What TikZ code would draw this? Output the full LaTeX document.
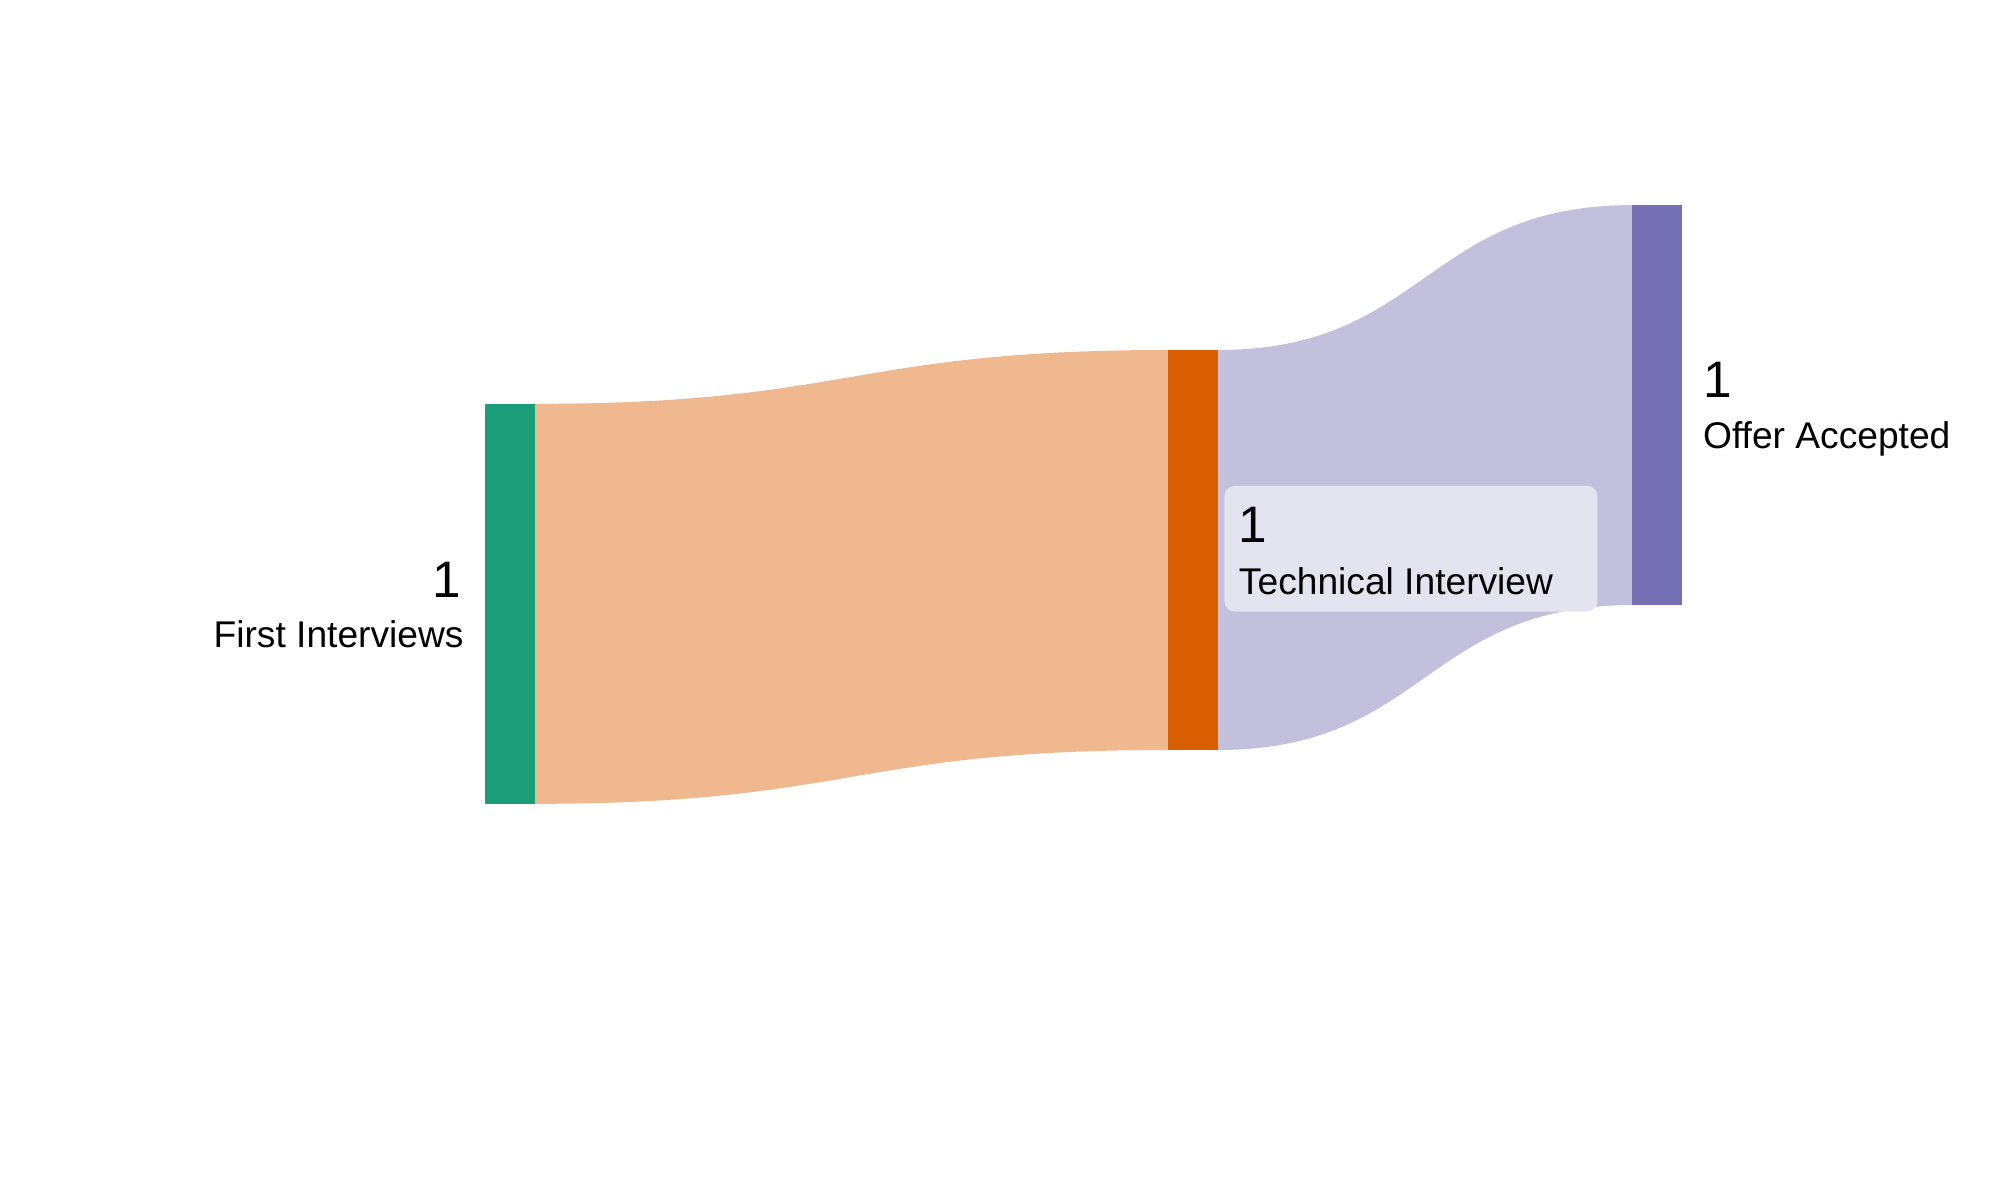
\documentclass[tikz,border=0pt]{standalone}
\usepackage{fontspec}
\setmainfont{Liberation Sans}
\begin{document}
\begin{tikzpicture}[x=0.5pt,y=-0.5pt,
  bar/.style={inner sep=0,outer sep=0,minimum width=19.5pt},
  num/.style={font=\fontsize{20}{22}\selectfont,inner sep=0},
  lbl/.style={font=\fontsize{14.5}{16}\selectfont,inner sep=0}]
\definecolor{cgreen}{HTML}{1B9E77}
\definecolor{corange}{HTML}{D95F02}
\definecolor{cpurple}{HTML}{7570B3}
\definecolor{lorange}{HTML}{EFB88F}
\definecolor{lpurple}{HTML}{C3C0DE}
\definecolor{boxc}{HTML}{E4E4F1}
\useasboundingbox (0,0) rectangle (1560,936);
\fill[lorange] (417,315) .. controls (664,315) and (664,273) .. (911,273) -- (911,585) .. controls (664,585) and (664,627) .. (417,627) -- cycle;
\fill[lpurple] (950,273) .. controls (1111.5,273) and (1111.5,160) .. (1273,160) -- (1273,472) .. controls (1111.5,472) and (1111.5,585) .. (950,585) -- cycle;
\node[bar,fill=cgreen,minimum height=156pt,anchor=north west] (fi) at (378,315) {};
\node[bar,fill=corange,minimum height=156pt,anchor=north west] (ti) at (911,273) {};
\node[bar,fill=cpurple,minimum height=156pt,anchor=north west] (oa) at (1273,160) {};
\fill[boxc,rounded corners=4pt] (955,379) rectangle (1246,477);
\node[num,anchor=base east] (fin) at (360,466) {1};
\node[lbl,anchor=base east] (fil) at (362,505) {First Interviews};
\node[num,anchor=base west] (tin) at (966,423) {1};
\node[lbl,anchor=base west] (til) at (966,464) {Technical Interview};
\node[num,anchor=base west] (oan) at (1328,310) {1};
\node[lbl,anchor=base west] (oal) at (1328,350) {Offer Accepted};
\end{tikzpicture}
\end{document}
